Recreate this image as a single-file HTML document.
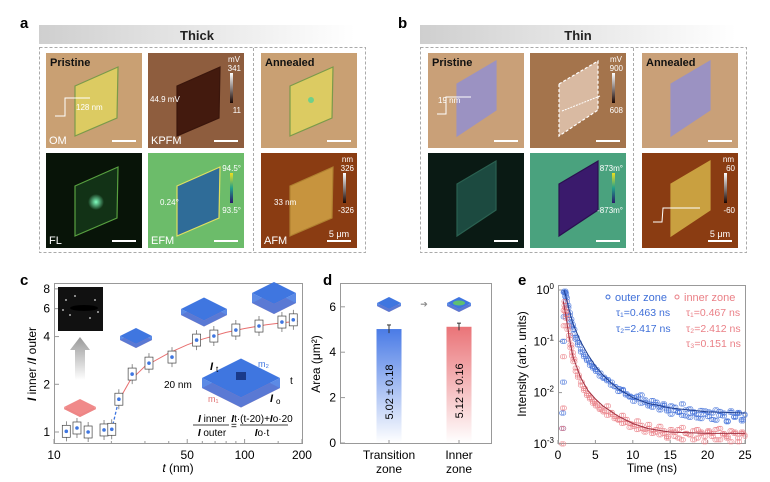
<!DOCTYPE html>
<html><head><meta charset="utf-8">
<style>
html,body{margin:0;padding:0;background:#fff;}
svg{display:block;font-family:"Liberation Sans",Arial,sans-serif;}
</style></head>
<body>
<svg id="fig" width="770" height="482" viewBox="0 0 770 482" xmlns="http://www.w3.org/2000/svg">
<defs>
<linearGradient id="hdr" x1="0" x2="1" y1="0" y2="0"><stop offset="0" stop-color="#cfcfcf"/><stop offset="1" stop-color="#ffffff"/></linearGradient>
<linearGradient id="gblue" x1="0" x2="0" y1="0" y2="1"><stop offset="0" stop-color="#4a7be6"/><stop offset="1" stop-color="#ffffff"/></linearGradient>
<linearGradient id="gred" x1="0" x2="0" y1="0" y2="1"><stop offset="0" stop-color="#ea7478"/><stop offset="1" stop-color="#ffffff"/></linearGradient>
<linearGradient id="garrow" x1="0" x2="0" y1="0" y2="1"><stop offset="0" stop-color="#999"/><stop offset="1" stop-color="#fff"/></linearGradient>
<linearGradient id="cbKp" x1="0" x2="0" y1="0" y2="1"><stop offset="0" stop-color="#fff"/><stop offset="1" stop-color="#1a0500"/></linearGradient>
<linearGradient id="cbEf" x1="0" x2="0" y1="0" y2="1"><stop offset="0" stop-color="#f0e020"/><stop offset="0.5" stop-color="#22a08a"/><stop offset="1" stop-color="#2a1a6a"/></linearGradient>
<radialGradient id="glow"><stop offset="0" stop-color="#80ffc0"/><stop offset="1" stop-color="#80ffc0" stop-opacity="0"/></radialGradient>
</defs>

<text x="20" y="28" font-size="15" font-weight="bold">a</text>
<text x="398" y="28" font-size="15" font-weight="bold">b</text>
<text x="20" y="285" font-size="15" font-weight="bold">c</text>
<text x="323" y="285" font-size="15" font-weight="bold">d</text>
<text x="518" y="285" font-size="15" font-weight="bold">e</text>

<rect x="39" y="25" width="316" height="19" fill="url(#hdr)"/>
<text x="197" y="40" font-size="13" font-weight="bold" text-anchor="middle" fill="#222">Thick</text>
<rect x="420" y="25" width="316" height="19" fill="url(#hdr)"/>
<text x="578" y="40" font-size="13" font-weight="bold" text-anchor="middle" fill="#222">Thin</text>
<rect x="39.5" y="47.5" width="326" height="205" fill="none" stroke="#aaa" stroke-dasharray="3,2"/>
<line x1="253.5" y1="48" x2="253.5" y2="252" stroke="#aaa" stroke-dasharray="3,2"/>
<rect x="420.5" y="47.5" width="326" height="205" fill="none" stroke="#aaa" stroke-dasharray="3,2"/>
<line x1="633.5" y1="48" x2="633.5" y2="252" stroke="#aaa" stroke-dasharray="3,2"/>

<g id="tiles"></g>
<g id="chartC"></g>
<g id="chartD"></g>
<g id="chartE"></g>
</svg>

<script>
const NS="http://www.w3.org/2000/svg";
function mk(parent,tag,attrs,txt){const e=document.createElementNS(NS,tag);for(const k in attrs)e.setAttribute(k,attrs[k]);if(txt!==undefined)e.textContent=txt;parent.appendChild(e);return e;}

const tilesG=document.getElementById('tiles');
const thickRh="29,33 72,14 71,65 29,83";
const thinRh="29,31 68,8 68,57 29,83";
const tiles=[
 {x:46,y:53,bg:"#c9a073",rh:thickRh,fill:"#dccb62",stroke:"#7a9a4a",tl:"Pristine",bl:"OM",name:"thick-om"},
 {x:148,y:53,bg:"#8e5d3e",rh:thickRh,fill:"#431a0e",stroke:"#3a160c",bl:"KPFM",name:"thick-kpfm",cb:"kp",cbT:["mV","341","11"]},
 {x:261,y:53,bg:"#c9a073",rh:thickRh,fill:"#dccb62",stroke:"#7a9a4a",tl:"Annealed",name:"thick-annealed-om",dot:true},
 {x:46,y:153,bg:"#081408",rh:thickRh,fill:"#123216",stroke:"#58a040",bl:"FL",name:"thick-fl",glow:true},
 {x:148,y:153,bg:"#6cbc6a",rh:thickRh,fill:"#2f6c98",stroke:"#e0e060",bl:"EFM",name:"thick-efm",cb:"ef",cbT:["","94.5°","93.5°"]},
 {x:261,y:153,bg:"#8a3c12",rh:thickRh,fill:"#c7943e",stroke:"#b08030",bl:"AFM",name:"thick-afm",cb:"kp",cbT:["nm","326","-326"],um:true},
 {x:428,y:53,bg:"#c9a078",rh:thinRh,fill:"#9b92c2",stroke:"#9b92c2",tl:"Pristine",name:"thin-om"},
 {x:530,y:53,bg:"#a4744c",rh:thinRh,fill:"#d9baa2",stroke:"#fff",dash:true,name:"thin-kpfm",cb:"kp",cbT:["mV","900","608"]},
 {x:642,y:53,bg:"#c9a078",rh:thinRh,fill:"#9b92c2",stroke:"#9b92c2",tl:"Annealed",name:"thin-annealed-om"},
 {x:428,y:153,bg:"#0a1a14",rh:thinRh,fill:"#1c4a40",stroke:"#2a6050",name:"thin-fl"},
 {x:530,y:153,bg:"#4aa27e",rh:thinRh,fill:"#3a1a6c",stroke:"#2a1050",name:"thin-efm",cb:"ef",cbT:["","873m°","-873m°"]},
 {x:642,y:153,bg:"#8a3c12",rh:thinRh,fill:"#c9a040",stroke:"#c9a040",name:"thin-afm",cb:"kp",cbT:["nm","60","-60"],um:true}
];
tiles.forEach(t=>{
 const g=mk(tilesG,'g',{transform:`translate(${t.x},${t.y})`});
 
 
 mk(g,'rect',{x:0,y:0,width:96,height:95,fill:t.bg});
 mk(g,'polygon',{points:t.rh,fill:t.fill,stroke:t.stroke,'stroke-width':1.2,'stroke-dasharray':t.dash?'3,2':'none'});
 if(t.glow) mk(g,'circle',{cx:50,cy:49,r:8,fill:"url(#glow)"});
 if(t.dot) mk(g,'circle',{cx:50,cy:47,r:3,fill:"#6fd08a"});
 if(t.tl){mk(g,'text',{x:4,y:13,'font-size':11,'font-weight':'bold',fill:'#111'},t.tl);}
 if(t.bl){mk(g,'text',{x:3,y:91,'font-size':11,fill:'#fff'},t.bl);}
 mk(g,'line',{x1:66,x2:90,y1:88,y2:88,stroke:'#fff','stroke-width':2});
 if(t.um) mk(g,'text',{x:78,y:84,'font-size':9,fill:'#fff','text-anchor':'middle'},"5 μm");
 if(t.cb){
  mk(g,'rect',{x:82,y:20,width:3,height:30,fill:t.cb==='kp'?"url(#cbKp)":"url(#cbEf)"});
  mk(g,'text',{x:92,y:9,'font-size':8,fill:'#fff','text-anchor':'end'},t.cbT[0]);
  mk(g,'text',{x:93,y:18,'font-size':8,fill:'#fff','text-anchor':'end'},t.cbT[1]);
  mk(g,'text',{x:93,y:60,'font-size':8,fill:'#fff','text-anchor':'end'},t.cbT[2]);
 }
});
(function(){
 const a=[[46+8,53+65,"128 nm"],[148+2,53+57,"44.9 mV"],[148+12,153+60,"0.24°"],[261+13,153+60,"33 nm"],[428+10,53+58,"19 nm"]];
 a.forEach((p,i)=>{const e=mk(tilesG,'text',{x:p[0]+(i==0?22:0),y:p[1]-8,'font-size':8,fill:'#fff'},p[2]);
 
 });
 mk(tilesG,'polyline',{points:"55,116 65,116 65,98 90,98",fill:'none',stroke:'#fff','stroke-width':1});
 mk(tilesG,'polyline',{points:"437,114 446,114 446,97 471,97",fill:'none',stroke:'#fff','stroke-width':1});
 mk(tilesG,'polyline',{points:"653,222 662,222 663,208 700,208",fill:'none',stroke:'#fff','stroke-width':1});
 mk(tilesG,'polyline',{points:"564,270 602,260",fill:'none',stroke:'#fff','stroke-width':1,'stroke-dasharray':'2,1'});
 mk(tilesG,'polyline',{points:"562,111 600,96",fill:'none',stroke:'#fff','stroke-width':1,'stroke-dasharray':'2,1'});
})();

/* ---------- Panel c ---------- */
const cT=[11.6,13.2,15.1,18.3,20.1,21.9,25.7,31.5,41.6,56,69,90,119,157,180];
const cR=[1.01,1.06,1.0,1.03,1.04,1.61,2.32,2.72,2.97,3.8,4.03,4.4,4.66,4.94,5.1];
const cFitT=[22,25,30,40,50,60,80,100,130,160,190];
const cFitR=[1.6,2.1,2.6,3.15,3.55,3.85,4.25,4.5,4.75,4.9,5.0];
const cXTicks=[10,50,100,200];
const cYTicks=[1,2,4,6,8];
const cG=document.getElementById('chartC');
const cx=v=>54+190.6*Math.log10(v/10);
const cy=v=>432-158.5*Math.log10(v);
let e;
e=mk(cG,'rect',{x:54.5,y:283.5,width:248,height:160,fill:'none',stroke:'#999'});


[20,30,40,60,70,80,90,150].forEach(v=>{mk(cG,'line',{x1:cx(v),x2:cx(v),y1:444,y2:441,stroke:'#999'});});
cXTicks.forEach(v=>{
 mk(cG,'line',{x1:cx(v),x2:cx(v),y1:444,y2:439,stroke:'#999'});
 e=mk(cG,'text',{x:cx(v),y:459,'font-size':12,'text-anchor':'middle'},v);
 
 
});
cYTicks.forEach(v=>{
 mk(cG,'line',{x1:54,x2:59,y1:cy(v),y2:cy(v),stroke:'#999'});
 e=mk(cG,'text',{x:50,y:cy(v)+4,'font-size':12,'text-anchor':'end'},v);
 
 
});
e=mk(cG,'text',{x:178,y:472,'font-size':12,'text-anchor':'middle'});
e.innerHTML='<tspan font-style="italic">t</tspan> (nm)';


e=mk(cG,'text',{transform:'translate(36,364) rotate(-90)','font-size':12,'text-anchor':'middle'});
e.innerHTML='<tspan font-weight="bold" font-style="italic">I</tspan> inner /<tspan font-weight="bold" font-style="italic">I</tspan> outer';


e=mk(cG,'rect',{x:58,y:287,width:45,height:44,fill:'#111'});


mk(cG,'ellipse',{cx:84,cy:308,rx:14,ry:3,fill:'#000'});
[[66,300],[75,296],[95,300],[70,315],[90,318],[63,310],[98,312]].forEach(p=>mk(cG,'circle',{cx:p[0],cy:p[1],r:0.9,fill:'#ddd'}));
e=mk(cG,'polygon',{points:"80,337 90,350 85,350 85,380 75,380 75,350 70,350",fill:'url(#garrow)'});


function slab(x,y,w,top,bot,bh,parent){
 const g=mk(parent||cG,'g',{});
 mk(g,'polygon',{points:`${x},${y+bh} ${x+w/2},${y+w*0.25+bh} ${x+w},${y+bh} ${x+w/2},${y-w*0.25+bh}`,fill:bot});
 mk(g,'polygon',{points:`${x},${y} ${x+w/2},${y+w*0.25} ${x+w},${y} ${x+w},${y+bh} ${x+w/2},${y+w*0.25+bh} ${x},${y+bh}`,fill:top,opacity:0.85});
 mk(g,'polygon',{points:`${x},${y} ${x+w/2},${y+w*0.25} ${x+w},${y} ${x+w/2},${y-w*0.25}`,fill:top});
 return g;
}
e=slab(64,407,32,"#f08a8a","#e07070",2);  
e=slab(120,336,32,"#3f76e0","#f08a8a",4);  
e=slab(181,309,46,"#3f76e0","#f08a8a",6);  
e=slab(252,293,44,"#3f76e0","#f08a8a",10);  
e=slab(202,378,78,"#3f76e0","#f08a8a",10);  
mk(cG,'rect',{x:236,y:372,width:10,height:8,fill:'#1a3a8a'});
mk(cG,'text',{x:210,y:370,'font-size':11,'font-style':'italic','font-weight':'bold'},"I");
mk(cG,'text',{x:216,y:372,'font-size':8},"t");
mk(cG,'text',{x:258,y:367,'font-size':9,fill:'#3f76e0'},"m₂");
mk(cG,'text',{x:208,y:402,'font-size':9,fill:'#e07070'},"m₁");
mk(cG,'text',{x:270,y:402,'font-size':11,'font-style':'italic','font-weight':'bold'},"I");
mk(cG,'text',{x:276,y:404,'font-size':8},"o");
mk(cG,'text',{x:164,y:388,'font-size':10},"20 nm");
mk(cG,'text',{x:290,y:384,'font-size':10},"t");
e=mk(cG,'g',{});


mk(e,'text',{x:212,y:422,'font-size':10,'text-anchor':'middle'}).innerHTML='<tspan font-weight="bold" font-style="italic">I</tspan> inner';
mk(e,'line',{x1:193,x2:229,y1:425,y2:425,stroke:'#000','stroke-width':0.7});
mk(e,'text',{x:212,y:436,'font-size':10,'text-anchor':'middle'}).innerHTML='<tspan font-weight="bold" font-style="italic">I</tspan> outer';
mk(e,'text',{x:231,y:429,'font-size':10},"=");
mk(e,'text',{x:262,y:422,'font-size':10,'text-anchor':'middle'}).innerHTML='<tspan font-weight="bold" font-style="italic">I</tspan>t·(t-20)+<tspan font-weight="bold" font-style="italic">I</tspan>o·20';
mk(e,'line',{x1:240,x2:288,y1:425,y2:425,stroke:'#000','stroke-width':0.7});
mk(e,'text',{x:262,y:436,'font-size':10,'text-anchor':'middle'}).innerHTML='<tspan font-weight="bold" font-style="italic">I</tspan>o·t';
e=mk(cG,'polyline',{points:cFitT.map((t,i)=>cx(t)+','+cy(cFitR[i])).join(' '),fill:'none',stroke:'#e87070','stroke-width':1});


e=mk(cG,'line',{x1:cx(cT[4]),y1:cy(cR[4]),x2:cx(cT[5]),y2:cy(cR[5]),stroke:'#3f76e0','stroke-width':1.3,'stroke-dasharray':'3,2'});


cT.forEach((t,i)=>{
 const X=cx(t),Y=cy(cR[i]);
 mk(cG,'line',{x1:X,x2:X,y1:Y-10,y2:Y+10,stroke:'#444','stroke-width':0.6});
 e=mk(cG,'rect',{x:X-4,y:Y-6,width:8,height:12,fill:'#fff',stroke:'#444','stroke-width':0.7});
 
 
 mk(cG,'circle',{cx:X,cy:Y,r:1.8,fill:'#3f76e0'});
});

/* ---------- Panel d ---------- */
const dCats=["Transition zone","Inner zone"];
const dVals=[5.02,5.12];
const dErr=[0.18,0.16];
const dYTicks=[0,2,4,6];
const dG=document.getElementById('chartD');
const dy=v=>443-22.7*v;
const dCx=[389,459];
e=mk(dG,'rect',{x:340.5,y:283.5,width:151,height:160,fill:'none',stroke:'#999'});


dYTicks.forEach(v=>{
 mk(dG,'line',{x1:340,x2:345,y1:dy(v),y2:dy(v),stroke:'#999'});
 e=mk(dG,'text',{x:336,y:dy(v)+4,'font-size':12,'text-anchor':'end'},v);
 
 
});
e=mk(dG,'text',{transform:'translate(320,364) rotate(-90)','font-size':12,'text-anchor':'middle'},"Area (μm²)");


dVals.forEach((v,i)=>{
 const X=dCx[i];
 e=mk(dG,'rect',{x:X-12.5,y:dy(v),width:25,height:dy(0)-dy(v),fill:i==0?'url(#gblue)':'url(#gred)'});
 
 
 mk(dG,'line',{x1:X,x2:X,y1:dy(v+dErr[i]),y2:dy(v-dErr[i]),stroke:'#333'});
 mk(dG,'line',{x1:X-2,x2:X+2,y1:dy(v+dErr[i]),y2:dy(v+dErr[i]),stroke:'#333'});
 mk(dG,'line',{x1:X,x2:X,y1:444,y2:440,stroke:'#999'});
 e=mk(dG,'text',{transform:`translate(${X+4},${dy(v/2)+6}) rotate(-90)`,'font-size':11,'text-anchor':'middle'},v.toFixed(2)+" ± "+dErr[i].toFixed(2));
 
 
 const parts=dCats[i].split(' ');
 e=mk(dG,'text',{x:X,y:459,'font-size':12,'text-anchor':'middle'},parts[0]);
 
 
 mk(dG,'text',{x:X,y:473,'font-size':12,'text-anchor':'middle'},parts[1]);
});
slab(377,303,24,"#3f76e0","#f08a8a",3,dG);
slab(447,303,24,"#3f76e0","#f08a8a",3,dG);
mk(dG,'ellipse',{cx:459,cy:303,rx:6,ry:2.5,fill:'#5fc070'});
mk(dG,'text',{x:424,y:307,'font-size':9,fill:'#888','text-anchor':'middle'},"➔");

/* ---------- Panel e ---------- */
const eT=[0.5,0.6,0.7,0.8,0.9,1.0,1.2,1.4,1.6,1.8,2.0,2.3,2.6,3.0,3.4,3.8,4.2,4.6,5.0,5.5,6.0,6.5,7.0,7.5,8.0,8.5,9.0,9.5,10,10.5,11,11.5,12,12.5,13,13.5,14,14.5,15,15.5,16,16.5,17,17.5,18,18.5,19,19.5,20,20.5,21,21.5,22,22.5,23,23.5,24,24.5,25];
const outerV=[0.002,0.016,0.3,0.95,0.85,0.7,0.5,0.36,0.27,0.21,0.17,0.12,0.095,0.07,0.055,0.045,0.038,0.032,0.028,0.024,0.02,0.018,0.016,0.013,0.012,0.011,0.0095,0.0085,0.008,0.0075,0.009,0.0065,0.006,0.007,0.0058,0.0052,0.006,0.0048,0.0055,0.0045,0.0042,0.006,0.0035,0.0048,0.004,0.0032,0.0045,0.0038,0.0042,0.003,0.0046,0.0036,0.004,0.0028,0.0044,0.0034,0.0041,0.003,0.0038];
const outerV2=[0.004,0.1,0.9,0.9,0.75,0.6,0.45,0.32,0.24,0.19,0.14,0.11,0.085,0.062,0.05,0.042,0.034,0.03,0.026,0.021,0.019,0.017,0.014,0.013,0.0105,0.0115,0.009,0.0082,0.0068,0.0085,0.0062,0.0072,0.0055,0.0052,0.0065,0.0046,0.0056,0.0044,0.0038,0.0052,0.0041,0.0036,0.0046,0.0033,0.0042,0.0037,0.0031,0.0044,0.0034,0.004,0.0029,0.0043,0.0035,0.0027,0.0041,0.0033,0.0039,0.0028,0.0036];
const innerV=[0.001,0.005,0.2,0.6,0.45,0.33,0.2,0.13,0.085,0.06,0.045,0.03,0.022,0.016,0.012,0.0095,0.008,0.0068,0.006,0.005,0.0045,0.0055,0.0038,0.0034,0.003,0.0036,0.0026,0.0025,0.0022,0.0028,0.002,0.0019,0.0024,0.0018,0.0017,0.0022,0.0016,0.0014,0.0019,0.0017,0.0013,0.0021,0.0016,0.0015,0.0012,0.0019,0.0017,0.0014,0.0018,0.0016,0.0012,0.002,0.0015,0.0013,0.0018,0.0016,0.0011,0.0017,0.0015];
const innerV2=[0.002,0.05,0.4,0.5,0.38,0.28,0.17,0.11,0.075,0.052,0.04,0.026,0.02,0.014,0.011,0.0088,0.0075,0.0062,0.0055,0.0047,0.0042,0.0036,0.0041,0.0031,0.0029,0.0025,0.003,0.0021,0.0024,0.0019,0.0023,0.0017,0.002,0.0016,0.0019,0.0015,0.0018,0.0013,0.0017,0.0014,0.0019,0.0012,0.0016,0.0015,0.0018,0.0013,0.0016,0.0011,0.0017,0.0014,0.0019,0.0012,0.0016,0.0014,0.0011,0.0017,0.0013,0.0016,0.0014];
const outerFitT=[0.8,1,1.5,2,3,4,5,6,7,8,10,12,15,20,25];
const outerFitV=[1.0,0.8,0.4,0.22,0.1,0.055,0.033,0.022,0.016,0.012,0.008,0.0062,0.005,0.0042,0.004];
const innerFitT=[0.7,1,1.5,2,3,4,5,6,8,10,12,15,20,25];
const innerFitV=[0.6,0.35,0.12,0.05,0.02,0.011,0.0075,0.0055,0.0035,0.0025,0.002,0.0017,0.0016,0.0016];
const eXTicks=[0,5,10,15,20,25];
const eYTicks=[0,-1,-2,-3];
const eG=document.getElementById('chartE');
const ex=t=>558+187*t/25;
const ey=v=>290-51.3*Math.log10(v);
e=mk(eG,'rect',{x:558.5,y:285.5,width:187,height:158,fill:'none',stroke:'#999'});


eXTicks.forEach(v=>{
 mk(eG,'line',{x1:ex(v),x2:ex(v),y1:444,y2:440,stroke:'#999'});
 e=mk(eG,'text',{x:ex(v),y:459,'font-size':12,'text-anchor':'middle'},v);
 
 
});
eYTicks.forEach(p=>{
 mk(eG,'line',{x1:558,x2:562,y1:ey(Math.pow(10,p)),y2:ey(Math.pow(10,p)),stroke:'#999'});
 e=mk(eG,'text',{x:554,y:ey(Math.pow(10,p))+4,'font-size':12,'text-anchor':'end'});
 e.innerHTML='10<tspan font-size="8" dy="-5">'+p+'</tspan>';
 
 
});
e=mk(eG,'text',{x:652,y:472,'font-size':12,'text-anchor':'middle'},"Time (ns)");


e=mk(eG,'text',{transform:'translate(526,364) rotate(-90)','font-size':12,'text-anchor':'middle'},"Intensity (arb. units)");


function scat(vals,col,nm,dt){
 eT.forEach((t,i)=>{ if(vals[i]===undefined)return;
  const tt=t+dt; if(tt>25)return;
  const c=mk(eG,'circle',{cx:ex(tt),cy:ey(vals[i]),r:2.2,fill:'none',stroke:col,'stroke-width':0.7,opacity:0.85});
  
  
 });
}
scat(outerV,'#3f6fd8','outer-zone-point',0);
scat(outerV2,'#3f6fd8','outer-zone-point',0);
scat(outerV2,'#3f6fd8','outer-zone-point',0.25);
scat(outerV,'#3f6fd8','outer-zone-point',0.25);
scat(innerV,'#ea7f86','inner-zone-point',0);
scat(innerV2,'#ea7f86','inner-zone-point',0);
scat(innerV2,'#ea7f86','inner-zone-point',0.25);
scat(innerV,'#ea7f86','inner-zone-point',0.25);
e=mk(eG,'polyline',{points:outerFitT.map((t,i)=>ex(t)+','+ey(outerFitV[i])).join(' '),fill:'none',stroke:'#1f3f90','stroke-width':1});


e=mk(eG,'polyline',{points:innerFitT.map((t,i)=>ex(t)+','+ey(innerFitV[i])).join(' '),fill:'none',stroke:'#a03040','stroke-width':1});


e=mk(eG,'g',{});


mk(e,'circle',{cx:608,cy:297,r:2,fill:'none',stroke:'#3f6fd8'});
mk(e,'text',{x:615,y:301,'font-size':11,fill:'#3f6fd8'},"outer zone");
mk(e,'circle',{cx:677,cy:297,r:2,fill:'none',stroke:'#ea7f86'});
mk(e,'text',{x:684,y:301,'font-size':11,fill:'#ea7f86'},"inner zone");
mk(e,'text',{x:616,y:316,'font-size':10.5,fill:'#3f6fd8'},"τ₁=0.463 ns");
mk(e,'text',{x:616,y:332,'font-size':10.5,fill:'#3f6fd8'},"τ₂=2.417 ns");
mk(e,'text',{x:686,y:316,'font-size':10.5,fill:'#ea7f86'},"τ₁=0.467 ns");
mk(e,'text',{x:686,y:332,'font-size':10.5,fill:'#ea7f86'},"τ₂=2.412 ns");
mk(e,'text',{x:686,y:347,'font-size':10.5,fill:'#ea7f86'},"τ₃=0.151 ns");
</script>
</body></html>
